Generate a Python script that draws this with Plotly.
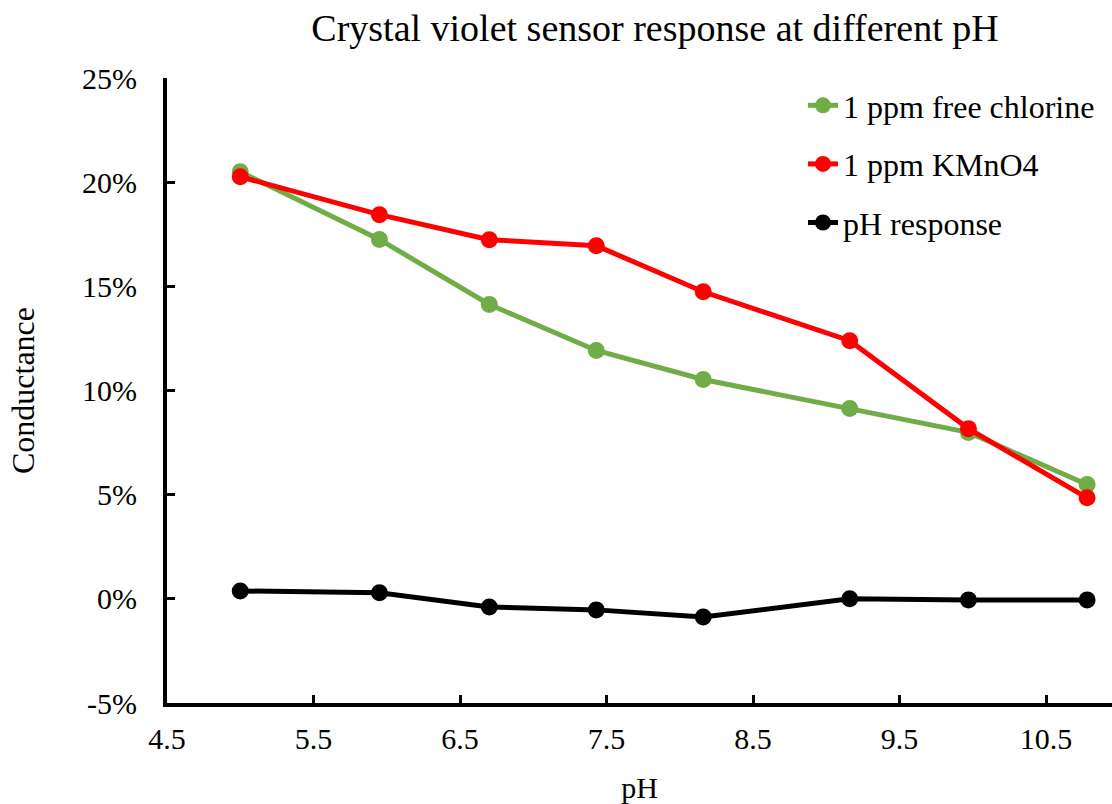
import plotly.graph_objects as go

# Measured pH of each test solution
ph_values = [5.0, 5.95, 6.7, 7.43, 8.16, 9.16, 9.97, 10.78]

# Relative conductance change for each condition (fraction)
free_chlorine = [0.205, 0.1725, 0.1413, 0.1192, 0.1053, 0.0914, 0.0799, 0.0549]
kmno4 = [0.2026, 0.1844, 0.1724, 0.1695, 0.1474, 0.1239, 0.0817, 0.0485]
ph_response = [0.0038, 0.0029, -0.0039, -0.0053, -0.0087, 0.0, -0.0005, -0.0005]

x_ticks = [4.5, 5.5, 6.5, 7.5, 8.5, 9.5, 10.5]
y_ticks = [-0.05, 0.0, 0.05, 0.10, 0.15, 0.20, 0.25]
y_tick_text = ["-5%", "0%", "5%", "10%", "15%", "20%", "25%"]

FONT = "Liberation Serif"

series = [
    ("1 ppm free chlorine", free_chlorine, "#70AD47"),
    ("1 ppm KMnO4", kmno4, "#FF0000"),
    ("pH response", ph_response, "#000000"),
]

fig = go.Figure()
for i, (name, values, color) in enumerate(series):
    fig.add_trace(
        go.Scatter(
            x=ph_values,
            y=values,
            name=name,
            mode="lines+markers",
            line=dict(color=color, width=5),
            marker=dict(color=color, size=17),
            legendgroup=f"g{i}",
        )
    )

fig.update_layout(
    width=1112,
    height=804,
    margin=dict(l=167, r=0, t=78, b=101),
    paper_bgcolor="white",
    plot_bgcolor="white",
    font=dict(family=FONT, color="black", size=30),
    title=dict(
        text="Crystal violet sensor response at different pH",
        font=dict(family=FONT, size=38, color="black"),
        x=0.589,
        xanchor="center",
        y=0.966,
        yanchor="middle",
    ),
    legend=dict(
        x=0.673,
        y=1.0,
        xanchor="left",
        yanchor="top",
        font=dict(family=FONT, size=32, color="black"),
        bgcolor="rgba(0,0,0,0)",
        traceorder="grouped",
        tracegroupgap=14,
    ),
    showlegend=True,
)

fig.update_xaxes(
    range=[4.5, 10.95],
    tickvals=x_ticks,
    ticktext=[f"{v:.1f}" for v in x_ticks],
    showgrid=False,
    zeroline=False,
    showline=True,
    linecolor="black",
    linewidth=4,
    ticks="inside",
    ticklen=8,
    tickwidth=3,
    tickcolor="black",
    tickfont=dict(family=FONT, size=30),
    ticklabelstandoff=6,
    title=dict(text="pH", font=dict(family=FONT, size=30), standoff=24),
)

fig.update_yaxes(
    range=[-0.05, 0.25],
    tickvals=y_ticks,
    ticktext=y_tick_text,
    showgrid=False,
    zeroline=False,
    showline=True,
    linecolor="black",
    linewidth=4,
    ticks="inside",
    ticklen=8,
    tickwidth=3,
    tickcolor="black",
    tickfont=dict(family=FONT, size=30),
    ticklabelstandoff=20,
    title=dict(text="Conductance", font=dict(family=FONT, size=32), standoff=39),
)

fig.write_html("out.html")
